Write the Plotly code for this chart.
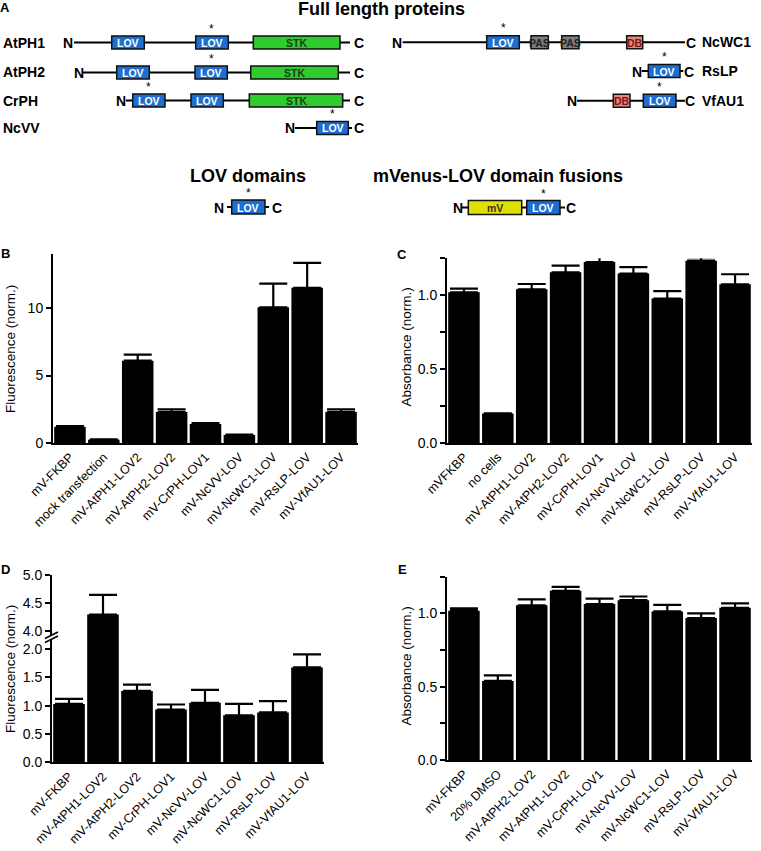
import plotly.graph_objects as go

W, H = 761, 851
FONT = "Arial, Liberation Sans, sans-serif"

# ---------------- data ----------------
b_cats = ["mV-FKBP", "mock transfection", "mV-AtPH1-LOV2", "mV-AtPH2-LOV2", "mV-CrPH-LOV1",
          "mV-NcVV-LOV", "mV-NcWC1-LOV", "mV-RsLP-LOV", "mV-VfAU1-LOV"]
b_vals = [1.2, 0.25, 6.1, 2.3, 1.4, 0.6, 10.05, 11.5, 2.3]
b_err = [0.05, 0.02, 0.45, 0.2, 0.07, 0.03, 1.75, 1.85, 0.2]

c_cats = ["mVFKBP", "no cells", "mV-AtPH1-LOV2", "mV-AtPH2-LOV2", "mV-CrPH-LOV1",
          "mV-NcVV-LOV", "mV-NcWC1-LOV", "mV-RsLP-LOV", "mV-VfAU1-LOV"]
c_vals = [1.02, 0.2, 1.04, 1.155, 1.225, 1.147, 0.978, 1.234, 1.074]
c_err = [0.025, 0.0, 0.036, 0.045, 0.04, 0.043, 0.05, 0.023, 0.068]

d_cats = ["mV-FKBP", "mV-AtPH1-LOV2", "mV-AtPH2-LOV2", "mV-CrPH-LOV1",
          "mV-NcVV-LOV", "mV-NcWC1-LOV", "mV-RsLP-LOV", "mV-VfAU1-LOV"]
d_vals = [1.03, 4.3, 1.26, 0.93, 1.05, 0.83, 0.88, 1.675]
d_err = [0.09, 0.35, 0.11, 0.09, 0.23, 0.2, 0.2, 0.23]

e_cats = ["mV-FKBP", "20% DMSO", "mV-AtPH2-LOV2", "mV-AtPH1-LOV2", "mV-CrPH-LOV1",
          "mV-NcVV-LOV", "mV-NcWC1-LOV", "mV-RsLP-LOV", "mV-VfAU1-LOV"]
e_vals = [1.018, 0.539, 1.055, 1.154, 1.063, 1.09, 1.013, 0.968, 1.038]
e_err = [0.016, 0.038, 0.04, 0.027, 0.037, 0.025, 0.045, 0.032, 0.03]

# ---------------- schematic (panel A) ----------------
# (label, row y, N x, line start, line end, C x, [(domain, x0, x1, starred)])
left_rows = [
    ("AtPH1", 42.5, 68, 74, 350, 358.5, [("LOV", 111.7, 144.3, 0), ("LOV", 195.7, 228.3, 1), ("STK", 253.3, 340, 0)]),
    ("AtPH2", 72.5, 78.5, 83, 350, 358.5, [("LOV", 116.7, 149.3, 0), ("LOV", 195, 227.3, 1), ("STK", 250.7, 338.3, 0)]),
    ("CrPH", 100.5, 121, 126, 350, 358.5, [("LOV", 132.7, 165, 1), ("LOV", 191, 223.3, 0), ("STK", 249.3, 342.7, 0)]),
    ("NcVV", 128, 290, 295, 352, 358.5, [("LOV", 316.7, 348.3, 1)]),
]
right_rows = [
    ("NcWC1", 42.3, 397, 402.7, 685, 690.5, [("LOV", 486.7, 519.3, 1), ("PAS", 531, 548.3, 0), ("PAS", 561.7, 579, 0), ("DB", 626.7, 642.7, 0)]),
    ("RsLP", 71, 637, 641.7, 683.3, 689, [("LOV", 648.3, 680, 1)]),
    ("VfAU1", 100.7, 572, 577, 685, 690, [("DB", 613.3, 630, 0), ("LOV", 643.3, 676, 1)]),
]
small_rows = [
    (None, 207, 219, 227, 269, 276.5, [("LOV", 231.7, 265, 1)]),
    (None, 207.5, 457.5, 462, 565, 571, [("mV", 468.3, 521.7, 0), ("LOV", 526.7, 560, 1)]),
]
dom_style = {
    "LOV": ("#1c6fd0", "white"),
    "STK": ("#2fcb2f", "#1d3d1d"),
    "PAS": ("#7d7d7d", "#222222"),
    "DB": ("#e8857b", "#7a1515"),
    "mV": ("#dfe000", "#333333"),
}


def px(x):
    return x / W


def py(y):
    return 1 - y / H


fig = go.Figure()


def eb(err):
    return dict(type="data", array=err, arrayminus=[0] * len(err), symmetric=False,
                color="black", thickness=2.2, width=14)


bar_kw = dict(marker=dict(color="black", line=dict(width=0)), showlegend=False, hoverinfo="skip")

fig.add_trace(go.Bar(x=b_cats, y=b_vals, error_y=eb(b_err), xaxis="x", yaxis="y", **bar_kw))
fig.add_trace(go.Bar(x=c_cats, y=c_vals, error_y=eb(c_err), xaxis="x2", yaxis="y2", **bar_kw))
fig.add_trace(go.Bar(x=d_cats, y=d_vals, error_y=eb(d_err), xaxis="x3", yaxis="y3", **bar_kw))
fig.add_trace(go.Bar(x=d_cats, y=d_vals, error_y=eb(d_err), xaxis="x3", yaxis="y4", **bar_kw))
fig.add_trace(go.Bar(x=e_cats, y=e_vals, error_y=eb(e_err), xaxis="x4", yaxis="y5", **bar_kw))

ax = dict(showline=True, linecolor="black", linewidth=2, showgrid=False, zeroline=False,
          fixedrange=True, automargin=False, tickfont=dict(family=FONT, size=14, color="black"))
xax = dict(ax, ticks="", tickangle=-45, tickfont=dict(family=FONT, size=12.5, color="black"))
yax = dict(ax, ticks="outside", ticklen=5, tickwidth=2, tickcolor="black")

quarter = [0, 0.25, 0.5, 0.75, 1.0, 1.25]
quarter_txt = ["0.0", "", "0.5", "", "1.0", ""]

# D break: upper segment slightly overlaps the lower one so the tall bar is seamless
up_px_per_unit = (631.4 - 575.3) / 1.0
up_bottom_px = 650
up_range_low = 4.0 - (up_bottom_px - 631.4) / up_px_per_unit

fig.update_layout(
    template="none",
    width=W, height=H, margin=dict(l=0, r=0, t=0, b=0, pad=0, autoexpand=False),
    paper_bgcolor="white", plot_bgcolor="white", barmode="overlay", bargap=0.07,
    font=dict(family=FONT, color="black"),
    xaxis=dict(xax, domain=[px(53), px(358)], anchor="y"),
    yaxis=dict(yax, domain=[py(443), py(254)], range=[0, 14], tickvals=[0, 5, 10], anchor="x"),
    xaxis2=dict(xax, domain=[px(447), px(752)], anchor="y2"),
    yaxis2=dict(yax, domain=[py(443), py(258.3)], range=[0, 1.25], tickvals=quarter, ticktext=quarter_txt, anchor="x2"),
    xaxis3=dict(xax, domain=[px(52), px(324)], anchor="y3"),
    yaxis3=dict(yax, domain=[py(762.3), py(649)], range=[0, 2], tickvals=[0, 0.5, 1, 1.5, 2],
                ticktext=["0.0", "0.5", "1.0", "1.5", "2.0"], anchor="x3"),
    yaxis4=dict(yax, domain=[py(up_bottom_px), py(575.3)], range=[up_range_low, 5], tickvals=[4, 4.5, 5],
                ticktext=["4.0", "4.5", "5.0"], anchor="x3"),
    xaxis4=dict(xax, domain=[px(447), px(752)], anchor="y5"),
    yaxis5=dict(yax, domain=[py(760), py(576.7)], range=[0, 1.25], tickvals=quarter, ticktext=quarter_txt, anchor="x4"),
)

shapes = []
annos = []


def text(x, y, s, size, color="black", bold=False, xanchor="center", yanchor="middle", angle=0):
    annos.append(dict(x=px(x), y=py(y), xref="paper", yref="paper", text=(f"<b>{s}</b>" if bold else s),
                      showarrow=False, xanchor=xanchor, yanchor=yanchor, textangle=angle, borderpad=0,
                      font=dict(family=FONT, size=size, color=color)))


DOM_FS = 10.5


def draw_row(row, label_x=None, box_h=13):
    label, y, nx, l0, l1, cx, doms = row
    shapes.append(dict(type="line", xref="paper", yref="paper", x0=px(l0), x1=px(l1), y0=py(y), y1=py(y),
                       line=dict(color="black", width=2)))
    text(nx, y + 0.5, "N", 14, bold=True)
    text(cx, y + 0.5, "C", 14, bold=True)
    for name, x0, x1, star in doms:
        fill, tc = dom_style[name]
        shapes.append(dict(type="rect", xref="paper", yref="paper", x0=px(x0), x1=px(x1),
                           y0=py(y - box_h / 2), y1=py(y + box_h / 2), fillcolor=fill,
                           line=dict(color="#111111", width=1.5)))
        text((x0 + x1) / 2, y + 0.5, name, DOM_FS, color=tc, bold=True)
        if star:
            # star text box sits right on top of the domain-label text box
            top_of_label = y + 0.5 - 0.56 * DOM_FS
            text((x0 + x1) / 2, top_of_label - 0.6, "*", 12, yanchor="bottom")
    if label is not None:
        text(label_x, y, label, 14, bold=True, xanchor="left")


for r in left_rows:
    draw_row(r, 2)
for r in right_rows:
    draw_row(r, 701)
for r in small_rows:
    draw_row(r, None, box_h=14)

# titles
text(381, 9, "Full length proteins", 18, bold=True)
text(248, 176.5, "LOV domains", 18, bold=True)
text(498.5, 176.5, "mVenus-LOV domain fusions", 18, bold=True)

# panel letters
for lab, x, y in [("A", 5, 7), ("B", 5, 253.5), ("C", 402, 254), ("D", 5, 569.5), ("E", 402, 569.5)]:
    text(x, y, lab, 13, bold=True)

# axis titles
text(10, 349, "Fluorescence (norm.)", 13.5, angle=-90)
text(405.5, 347, "Absorbance (norm.)", 13.5, angle=-90)
text(10, 669, "Fluorescence (norm.)", 13.5, angle=-90)
text(405.5, 666, "Absorbance (norm.)", 13.5, angle=-90)

# axis break marks in D
shapes.append(dict(type="path", xref="paper", yref="paper",
                   path=f"M {px(45)},{py(638.5)} L {px(58)},{py(632)} L {px(58)},{py(636)} L {px(45)},{py(642.5)} Z",
                   fillcolor="white", line=dict(width=0)))
for dy in (0, 4):
    shapes.append(dict(type="line", xref="paper", yref="paper", x0=px(45), y0=py(638.5 + dy),
                       x1=px(58), y1=py(632 + dy), line=dict(color="black", width=1.6)))

fig.update_layout(shapes=shapes, annotations=annos)
fig.write_html(
    "out.html",
    config={"displayModeBar": False},
    post_script="document.body.style.margin='0';document.body.style.padding='0';"
                "document.documentElement.style.overflow='hidden';",
)
